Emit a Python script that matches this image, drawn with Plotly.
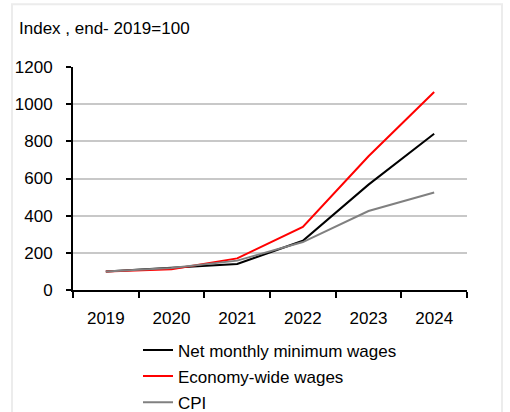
import plotly.graph_objects as go

# Index values, end-2019 = 100
years = ["2019", "2020", "2021", "2022", "2023", "2024"]
net_min_wages = [100, 120, 140, 265, 567, 841]
economy_wages = [100, 112, 170, 340, 720, 1065]
cpi = [100, 118, 158, 258, 425, 525]

series_names = ["Net monthly minimum wages", "Economy-wide wages", "CPI"]
series_colors = ["#000000", "#ff0000", "#808080"]
series_values = [net_min_wages, economy_wages, cpi]

FONT = "Liberation Sans, Arial, sans-serif"

fig = go.Figure()
for i, (name, color, vals) in enumerate(zip(series_names, series_colors, series_values)):
    fig.add_trace(go.Scatter(
        x=years, y=vals, name=name, mode="lines",
        line=dict(color=color, width=2),
        legendgroup=f"g{i}",
    ))

W, H = 510, 412
L, R, T, B = 73, 43, 67, 121.5
pw, ph = W - L - R, H - T - B

def px_x(p):
    return (p - L) / pw

def px_y(p):
    return (H - B - p) / ph

fig.update_layout(
    width=W, height=H,
    margin=dict(l=L, r=R, t=T, b=B, pad=0, autoexpand=False),
    paper_bgcolor="white", plot_bgcolor="white",
    font=dict(family=FONT, size=17, color="#000000"),
    showlegend=True,
    legend=dict(
        x=px_x(138), y=px_y(333), xanchor="left", yanchor="top",
        bgcolor="rgba(0,0,0,0)", tracegroupgap=1,
        font=dict(family=FONT, size=17, color="#000000"),
    ),
    xaxis=dict(
        type="category", range=[-0.5, len(years) - 0.5],
        showgrid=False, zeroline=False,
        showline=True, linecolor="#000000", linewidth=2,
        ticks="outside", tickson="boundaries", ticklen=6, tickwidth=2,
        tickcolor="#000000", ticklabelstandoff=12,
        tickfont=dict(family=FONT, size=17),
        fixedrange=True,
    ),
    yaxis=dict(
        range=[0, 1200], dtick=200, tick0=0,
        showgrid=True, gridcolor="#c8c8c8", gridwidth=2,
        zeroline=False,
        showline=True, linecolor="#000000", linewidth=2,
        ticks="outside", ticklen=5, tickwidth=2, tickcolor="#000000",
        ticklabelstandoff=10,
        tickfont=dict(family=FONT, size=17),
        fixedrange=True,
    ),
    annotations=[dict(
        text="Index , end- 2019=100", xref="paper", yref="paper",
        x=px_x(17), y=px_y(28), xanchor="left", yanchor="middle",
        showarrow=False, font=dict(family=FONT, size=17, color="#000000"),
    )],
    shapes=[dict(
        type="rect", xref="paper", yref="paper",
        x0=px_x(12), x1=px_x(502), y0=px_y(430), y1=px_y(4),
        line=dict(color="#ececec", width=2), fillcolor="rgba(0,0,0,0)",
        layer="below",
    )],
)

fig.write_html("out.html")
